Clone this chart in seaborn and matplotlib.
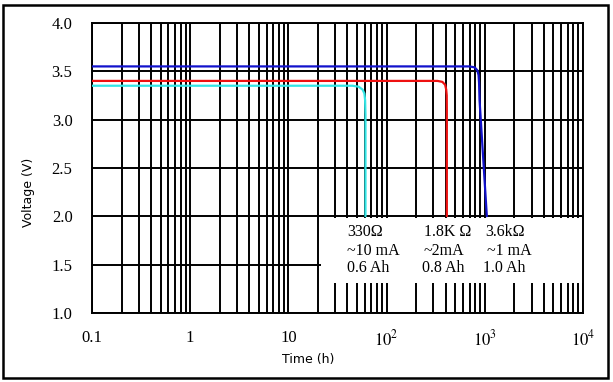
import matplotlib
matplotlib.use('Agg')
import matplotlib.pyplot as plt
from matplotlib.patches import Rectangle
from matplotlib.ticker import FixedLocator, LogLocator, NullFormatter
import seaborn as sns
import pandas as pd

# discharge curves (time in h, voltage in V)
cyan_t = [0.1, 45, 52, 57, 59.5, 60.5, 61, 61]
cyan_v = [3.35, 3.35, 3.34, 3.31, 3.27, 3.2, 3.05, 2.0]

red_t = [0.1, 330, 370, 395, 405, 410, 411, 411]
red_v = [3.40, 3.40, 3.39, 3.36, 3.31, 3.25, 3.1, 2.0]

blue_t = [0.1, 700, 790, 840, 865, 875, 885, 1050]
blue_v = [3.55, 3.55, 3.54, 3.51, 3.46, 3.38, 3.20, 2.0]

x_ticks = [0.1, 1, 10, 100, 1000, 10000]
x_labels = ['0.1', '1', '10', '$10^2$', '$10^3$', '$10^4$']
y_ticks = [1.0, 1.5, 2.0, 2.5, 3.0, 3.5, 4.0]

box_lines = [
    ['330Ω', '~10 mA', '0.6 Ah'],
    ['1.8K Ω', '~2mA', '0.8 Ah'],
    ['3.6kΩ', '~1 mA', '1.0 Ah'],
]
box_x = [[40, 40, 40], [240, 240, 232], [1000, 1050, 950]]
box_y = [1.84, 1.64, 1.46]

sns.set_style('white')
plt.rcParams['font.family'] = ['Liberation Serif', 'DejaVu Serif']
plt.rcParams['mathtext.fontset'] = 'stix'
for key in ['text.color', 'axes.labelcolor', 'xtick.color', 'ytick.color']:
    plt.rcParams[key] = 'black'

fig = plt.figure(figsize=(6.13, 3.82), dpi=100)
ax = fig.add_axes([0.150, 0.181, 0.801, 0.759])

df = pd.concat([
    pd.DataFrame({'t': cyan_t, 'v': cyan_v, 'load': '330'}),
    pd.DataFrame({'t': red_t, 'v': red_v, 'load': '1.8K'}),
    pd.DataFrame({'t': blue_t, 'v': blue_v, 'load': '3.6k'}),
])
sns.lineplot(data=df, x='t', y='v', hue='load', sort=False, estimator=None,
             palette=['#33e6e6', '#ee1111', '#1111cc'], linewidth=1.6,
             legend=False, ax=ax, zorder=4)

ax.set_xscale('log')
ax.set_xlim(0.1, 10000)
ax.set_ylim(1.0, 4.0)

ax.xaxis.set_major_locator(FixedLocator(x_ticks))
ax.set_xticklabels(x_labels)
ax.xaxis.set_minor_locator(LogLocator(base=10, subs=range(2, 10), numticks=20))
ax.xaxis.set_minor_formatter(NullFormatter())
ax.set_yticks(y_ticks)
ax.set_yticklabels([f'{v:.1f}' for v in y_ticks])

ax.grid(True, which='both', color='black', linewidth=1.4)
ax.set_axisbelow(True)
ax.tick_params(which='both', length=0, labelsize=12)
ax.tick_params(axis='x', pad=12)
ax.tick_params(axis='y', pad=14)
for s in ax.spines.values():
    s.set_color('black')
    s.set_linewidth(1.4)

# blank panel holding the load notes
ax.add_patch(Rectangle((21.5, 1.311), 10000 - 21.5, 1.985 - 1.311,
                       facecolor='white', edgecolor='none', zorder=1))
for col in range(3):
    for row in range(3):
        ax.text(box_x[col][row], box_y[row], box_lines[col][row],
                ha='left', va='center', fontsize=11.5, zorder=5)

ax.set_xlabel('Time (h)', family='DejaVu Sans', fontsize=9)
ax.set_ylabel('Voltage (V)', family='DejaVu Sans', fontsize=9)
ax.xaxis.set_label_coords(0.44, -0.138)
ax.yaxis.set_label_coords(-0.116, 0.417)

fig.patches.append(Rectangle((0.005, 0.0105), 0.987, 0.977, transform=fig.transFigure,
                             fill=False, edgecolor='black', linewidth=1.8))

fig.savefig('out.png', dpi=100)
